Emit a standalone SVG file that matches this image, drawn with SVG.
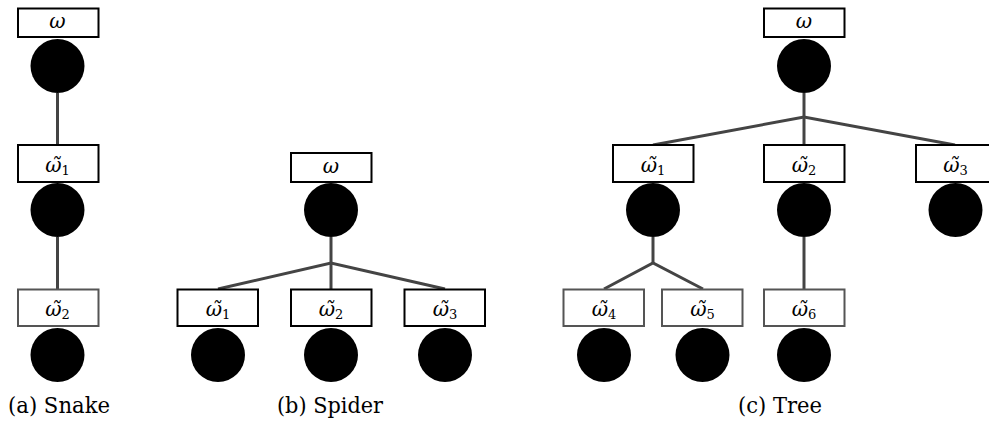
<svg xmlns="http://www.w3.org/2000/svg" width="989" height="426" viewBox="0 0 989 426">
  <style>
    .box { fill: #ffffff; stroke: #000000; stroke-width: 2; }
    .box.leaf { stroke: #555555; }
    .ball { fill: #000000; }
    .edge { stroke: #444444; stroke-width: 3; fill: none; }
    .w { font-family: 'DejaVu Serif', serif; font-style: italic; font-size: 20px; fill: #000; text-anchor: middle; }
    .sub { font-style: normal; font-size: 13px; }
    .cap { font-family: 'DejaVu Serif', 'Liberation Serif', serif; font-size: 22px; fill: #000; text-anchor: middle; }
  </style>

  <!-- connectors -->
  <g id="connectors">
    <!-- snake -->
    <line class="edge" x1="57.5" y1="93" x2="57.5" y2="145"/>
    <line class="edge" x1="57.5" y1="237" x2="57.5" y2="289"/>
    <!-- spider -->
    <line class="edge" x1="331" y1="237" x2="331" y2="263"/>
    <polyline class="edge" points="218,289 331,263 445,289"/>
    <line class="edge" x1="331" y1="263" x2="331" y2="289"/>
    <!-- tree -->
    <line class="edge" x1="804" y1="93" x2="804" y2="117"/>
    <polyline class="edge" points="653,145 804,117 955,145"/>
    <line class="edge" x1="804" y1="117" x2="804" y2="145"/>
    <line class="edge" x1="653" y1="237" x2="653" y2="263"/>
    <polyline class="edge" points="604,289 653,263 703,289"/>
    <line class="edge" x1="804" y1="237" x2="804" y2="289"/>
  </g>

  <!-- (a) snake -->
  <g id="snake-root">
    <rect class="box" x="18" y="8.5" width="80.5" height="28.5"/>
    <text class="w" x="57.5" y="28">ω</text>
    <circle class="ball" cx="57.5" cy="66" r="27"/>
  </g>
  <g id="snake-1">
    <rect class="box" x="18" y="145" width="80.5" height="37"/>
    <text class="w" x="57.5" y="172">ω̃<tspan class="sub" dy="3">1</tspan></text>
    <circle class="ball" cx="57.5" cy="210" r="27"/>
  </g>
  <g id="snake-2">
    <rect class="box leaf" x="18" y="289.5" width="80.5" height="36.5"/>
    <text class="w" x="57.5" y="316">ω̃<tspan class="sub" dy="3">2</tspan></text>
    <circle class="ball" cx="57.5" cy="355" r="27"/>
  </g>
  <text class="cap" x="59" y="413" textLength="102" lengthAdjust="spacingAndGlyphs">(a) Snake</text>

  <!-- (b) spider -->
  <g id="spider-root">
    <rect class="box" x="291" y="153" width="80.5" height="29"/>
    <text class="w" x="331" y="173">ω</text>
    <circle class="ball" cx="331" cy="210" r="27"/>
  </g>
  <g id="spider-1">
    <rect class="box" x="177.5" y="289.5" width="80.5" height="36.5"/>
    <text class="w" x="218" y="316">ω̃<tspan class="sub" dy="3">1</tspan></text>
    <circle class="ball" cx="218" cy="355" r="27"/>
  </g>
  <g id="spider-2">
    <rect class="box" x="291" y="289.5" width="80.5" height="36.5"/>
    <text class="w" x="331" y="316">ω̃<tspan class="sub" dy="3">2</tspan></text>
    <circle class="ball" cx="331" cy="355" r="27"/>
  </g>
  <g id="spider-3">
    <rect class="box" x="404.5" y="289.5" width="80.5" height="36.5"/>
    <text class="w" x="445" y="316">ω̃<tspan class="sub" dy="3">3</tspan></text>
    <circle class="ball" cx="445" cy="355" r="27"/>
  </g>
  <text class="cap" x="330" y="413" textLength="106" lengthAdjust="spacingAndGlyphs">(b) Spider</text>

  <!-- (c) tree -->
  <g id="tree-root">
    <rect class="box" x="764" y="8.5" width="80.5" height="28.5"/>
    <text class="w" x="804" y="28">ω</text>
    <circle class="ball" cx="804" cy="66" r="27"/>
  </g>
  <g id="tree-1">
    <rect class="box" x="613" y="145" width="80.5" height="37"/>
    <text class="w" x="653" y="172">ω̃<tspan class="sub" dy="3">1</tspan></text>
    <circle class="ball" cx="653" cy="210" r="27"/>
  </g>
  <g id="tree-2">
    <rect class="box" x="764" y="145" width="80.5" height="37"/>
    <text class="w" x="804" y="172">ω̃<tspan class="sub" dy="3">2</tspan></text>
    <circle class="ball" cx="804" cy="210" r="27"/>
  </g>
  <g id="tree-3">
    <rect class="box" x="916" y="145" width="80.5" height="37"/>
    <text class="w" x="955.5" y="172">ω̃<tspan class="sub" dy="3">3</tspan></text>
    <circle class="ball" cx="955.5" cy="210" r="27"/>
  </g>
  <g id="tree-4">
    <rect class="box leaf" x="563.5" y="289.5" width="80.5" height="36.5"/>
    <text class="w" x="604" y="316">ω̃<tspan class="sub" dy="3">4</tspan></text>
    <circle class="ball" cx="604" cy="355" r="27"/>
  </g>
  <g id="tree-5">
    <rect class="box leaf" x="662" y="289.5" width="80.5" height="36.5"/>
    <text class="w" x="702.5" y="316">ω̃<tspan class="sub" dy="3">5</tspan></text>
    <circle class="ball" cx="702.5" cy="355" r="27"/>
  </g>
  <g id="tree-6">
    <rect class="box leaf" x="764" y="289.5" width="80.5" height="36.5"/>
    <text class="w" x="804" y="316">ω̃<tspan class="sub" dy="3">6</tspan></text>
    <circle class="ball" cx="804" cy="355" r="27"/>
  </g>
  <text class="cap" x="780" y="413" textLength="84" lengthAdjust="spacingAndGlyphs">(c) Tree</text>
</svg>
